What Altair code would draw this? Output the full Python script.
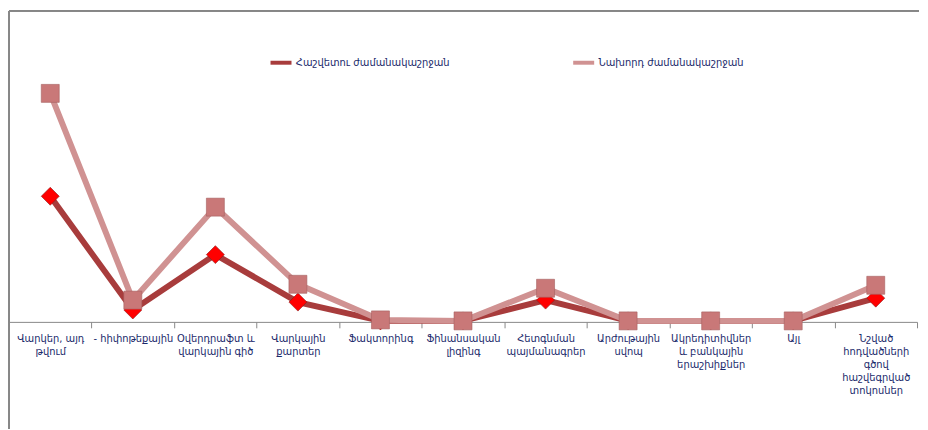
import altair as alt
import pandas as pd

categories = [
    "Վարկեր, այդ|թվում",
    "- հիփոթեքային",
    "Օվերդրաֆտ և|վարկային գիծ",
    "Վարկային|քարտեր",
    "Ֆակտորինգ",
    "Ֆինանսական|լիզինգ",
    "Հետգնման|պայմանագրեր",
    "Արժութային|սվոպ",
    "Ակրեդիտիվներ|և բանկային|երաշխիքներ",
    "Այլ",
    "Նշված|հոդվածների|գծով|հաշվեգրված|տոկոսներ",
]
series_names = ["Հաշվետու ժամանակաշրջան", "Նախորդ ժամանակաշրջան"]
current_vals = [127, 12, 68, 20, 1, 1, 22, 1, 1, 1, 24]
previous_vals = [231, 22, 116, 38, 2, 1, 34, 1, 1, 1, 37]

rows = []
for i, c in enumerate(categories):
    rows.append({"cat": c, "series": series_names[0], "value": current_vals[i], "order": i})
for i, c in enumerate(categories):
    rows.append({"cat": c, "series": series_names[1], "value": previous_vals[i], "order": i})
df = pd.DataFrame(rows)

label_color = "#1b2a6b"
line_colors = ["#a83c3c", "#d09292"]

x = alt.X(
    "cat:N",
    sort=categories,
    title=None,
    scale=alt.Scale(paddingInner=0, paddingOuter=0),
    axis=alt.Axis(
        labelAngle=0,
        labelExpr="split(datum.label, '|')",
        labelFont="DejaVu Sans",
        labelFontSize=10,
        labelColor=label_color,
        labelLineHeight=13,
        labelPadding=6,
        domainColor="#888888",
        tickColor="#888888",
        tickSize=6,
        tickBand="extent",
        labelLimit=200,
    ),
)
y = alt.Y("value:Q", axis=None, scale=alt.Scale(domain=[0, 314], nice=False))
color = alt.Color(
    "series:N",
    scale=alt.Scale(domain=series_names, range=line_colors),
    legend=alt.Legend(
        title=None,
        orient="none",
        legendX=262,
        legendY=39,
        direction="horizontal",
        columns=2,
        columnPadding=116,
        symbolType="stroke",
        symbolStrokeWidth=4,
        symbolSize=450,
        labelFont="DejaVu Sans",
        labelFontSize=10,
        labelColor=label_color,
        labelOffset=2,
        labelLimit=300,
    ),
)

base = alt.Chart(df)

cur = base.transform_filter(alt.datum.series == series_names[0])
prev = base.transform_filter(alt.datum.series == series_names[1])

cur_line = cur.mark_line(strokeWidth=6).encode(x=x, y=y, color=color)
cur_pts = cur.mark_point(shape="diamond", size=330, filled=True, fill="#ff0000", stroke="#8a1a1a", strokeWidth=0.6, opacity=1).encode(x=x, y=y)
prev_line = prev.mark_line(strokeWidth=6).encode(x=x, y=y, color=color)
prev_pts = prev.mark_point(shape="square", size=330, filled=True, fill="#c97878", stroke="#a55f5f", strokeWidth=0.6, opacity=1).encode(x=x, y=y)

left_rule = alt.Chart(df).mark_rule(color="#888888", strokeWidth=1).encode(
    x=alt.value(0), y=alt.value(0), y2=alt.value(422)
)
top_rule = alt.Chart(df).mark_rule(color="#888888", strokeWidth=1).encode(
    x=alt.value(0), x2=alt.value(920), y=alt.value(0)
)

chart = alt.layer(left_rule, top_rule, cur_line, cur_pts, prev_line, prev_pts).properties(
    width=918, height=314, padding=0
).configure_view(stroke=None)

chart.save("out.html", embed_options={"renderer": "svg", "actions": False})
